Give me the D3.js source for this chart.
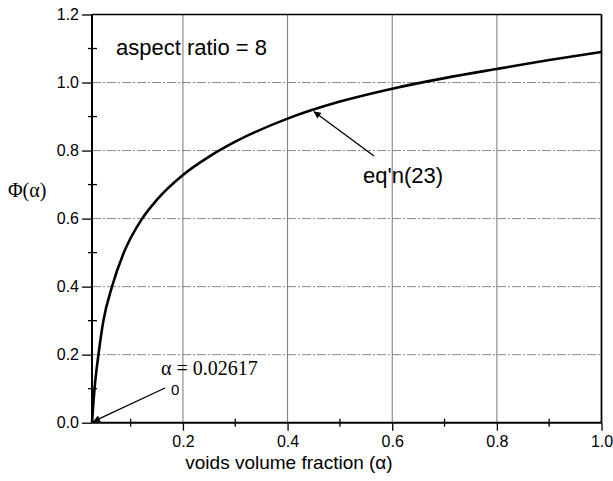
<!DOCTYPE html>
<html lang="en">
<head>
<meta charset="utf-8">
<title>Phi(alpha) vs voids volume fraction</title>
<script src="https://d3js.org/d3.v7.min.js"></script>
<style>
  body { margin: 0; background: #fff; }
  svg { display: block; }
</style>
</head>
<body>
<script>
// curve
const alpha = [0.02617, 0.031, 0.0385, 0.048, 0.0644, 0.087, 0.122, 0.15, 0.2, 0.25, 0.3, 0.4, 0.5, 0.6, 0.7, 0.8, 0.9, 1.0];
const phi   = [0, 0.1, 0.2, 0.3, 0.4, 0.5, 0.6, 0.655, 0.728, 0.782, 0.826, 0.894, 0.944, 0.982, 1.013, 1.040, 1.066, 1.090];

const xTicks = [0.2, 0.4, 0.6, 0.8, 1.0];
const xMinor = [0.1, 0.3, 0.5, 0.7, 0.9];
const yTicks = [0, 0.2, 0.4, 0.6, 0.8, 1.0, 1.2];
const yMinor = [0.1, 0.3, 0.5, 0.7, 0.9, 1.1];

const width = 613, height = 481;
const plotL = 92, plotR = 601.5, plotT = 14.5, plotB = 422.7;

const x = d3.scaleLinear().domain([0.02617, 1.0]).range([plotL, plotR]);
const y = d3.scaleLinear().domain([0, 1.2]).range([plotB, plotT]);

const svg = d3.select("body").append("svg")
    .attr("width", width)
    .attr("height", height);

svg.append("defs").append("marker")
    .attr("id", "arr")
    .attr("viewBox", "0 0 10 10")
    .attr("refX", 10).attr("refY", 5)
    .attr("markerWidth", 9).attr("markerHeight", 7)
    .attr("markerUnits", "userSpaceOnUse")
    .attr("orient", "auto")
  .append("path")
    .attr("d", "M0,0 L10,5 L0,10 z")
    .attr("fill", "#000");

// grid
svg.append("g").selectAll("line")
  .data(yTicks.filter(d => d > 0 && d < 1.2))
  .join("line")
    .attr("x1", plotL).attr("x2", plotR)
    .attr("y1", d => y(d)).attr("y2", d => y(d))
    .attr("stroke", "#8a8a8a")
    .attr("stroke-width", 1)
    .attr("stroke-dasharray", "9,2,2,2");

svg.append("g").selectAll("line")
  .data(xTicks.filter(d => d < 1.0))
  .join("line")
    .attr("x1", d => x(d)).attr("x2", d => x(d))
    .attr("y1", plotT).attr("y2", plotB)
    .attr("stroke", "#777")
    .attr("stroke-width", 1);

// axes
const xAxis = d3.axisBottom(x).tickValues(xTicks).tickFormat(d3.format(".1f")).tickSize(8).tickPadding(5);
const yAxis = d3.axisLeft(y).tickValues(yTicks).tickFormat(d3.format(".1f")).tickSize(10).tickPadding(3);

const gx = svg.append("g")
    .attr("transform", "translate(0," + plotB + ")")
    .call(xAxis);
const gy = svg.append("g")
    .attr("transform", "translate(" + plotL + ",0)")
    .call(yAxis);

[gx, gy].forEach(g => {
  g.select(".domain").remove();
  g.selectAll("line").attr("stroke", "#000").attr("stroke-width", 1.3);
  g.selectAll("text")
    .attr("fill", "#000")
    .style("font-family", "Liberation Sans, Arial, sans-serif")
    .style("font-size", "16px");
});

// minor ticks crossing the axes
svg.append("g").selectAll("line")
  .data(xMinor)
  .join("line")
    .attr("x1", d => x(d)).attr("x2", d => x(d))
    .attr("y1", plotB - 4).attr("y2", plotB + 4)
    .attr("stroke", "#000").attr("stroke-width", 1.3);

svg.append("g").selectAll("line")
  .data(yMinor)
  .join("line")
    .attr("x1", plotL - 4).attr("x2", plotL + 5)
    .attr("y1", d => y(d)).attr("y2", d => y(d))
    .attr("stroke", "#000").attr("stroke-width", 1.3);

// frame
svg.append("line").attr("x1", plotL).attr("x2", plotR).attr("y1", plotT).attr("y2", plotT)
    .attr("stroke", "#000").attr("stroke-width", 1.5);
svg.append("line").attr("x1", plotR).attr("x2", plotR).attr("y1", plotT).attr("y2", plotB)
    .attr("stroke", "#000").attr("stroke-width", 1.8);
svg.append("line").attr("x1", plotL).attr("x2", plotR).attr("y1", plotB).attr("y2", plotB)
    .attr("stroke", "#000").attr("stroke-width", 2);
svg.append("line").attr("x1", plotL).attr("x2", plotL).attr("y1", plotT).attr("y2", plotB)
    .attr("stroke", "#000").attr("stroke-width", 2);

// curve
const pts = alpha.map((a, i) => [a, phi[i]]);
svg.append("path")
    .datum(pts)
    .attr("fill", "none")
    .attr("stroke", "#000")
    .attr("stroke-width", 2.6)
    .attr("d", d3.line().x(d => x(d[0])).y(d => y(d[1])).curve(d3.curveMonotoneX));

// annotations
svg.append("text")
    .attr("x", 116).attr("y", 55)
    .style("font-family", "Liberation Sans, Arial, sans-serif")
    .style("font-size", "22px")
    .text("aspect ratio = 8");

svg.append("text")
    .attr("x", 363).attr("y", 183)
    .style("font-family", "Liberation Sans, Arial, sans-serif")
    .style("font-size", "22px")
    .text("eq'n(23)");

svg.append("line")
    .attr("x1", 374).attr("y1", 156)
    .attr("x2", x(0.45)).attr("y2", y(0.921) + 2)
    .attr("stroke", "#000").attr("stroke-width", 1.3)
    .attr("marker-end", "url(#arr)");

svg.append("text")
    .attr("x", 161).attr("y", 375)
    .style("font-family", "Liberation Serif, Times New Roman, serif")
    .style("font-size", "20px")
    .text("\u03b1 = 0.02617");

svg.append("text")
    .attr("x", 171).attr("y", 395)
    .style("font-family", "Liberation Sans, Arial, sans-serif")
    .style("font-size", "15px")
    .text("0");

svg.append("line")
    .attr("x1", 165).attr("y1", 388)
    .attr("x2", x(0.02617) + 1).attr("y2", y(0) - 1)
    .attr("stroke", "#000").attr("stroke-width", 1.3)
    .attr("marker-end", "url(#arr)");

// axis titles
svg.append("text")
    .attr("x", 8).attr("y", 197)
    .style("font-family", "Liberation Serif, Times New Roman, serif")
    .style("font-size", "20px")
    .text("\u03a6(\u03b1)");

svg.append("text")
    .attr("x", 289).attr("y", 469)
    .attr("text-anchor", "middle")
    .style("font-family", "Liberation Sans, Arial, sans-serif")
    .style("font-size", "19px")
    .text("voids volume fraction (\u03b1)");
</script>
</body>
</html>
